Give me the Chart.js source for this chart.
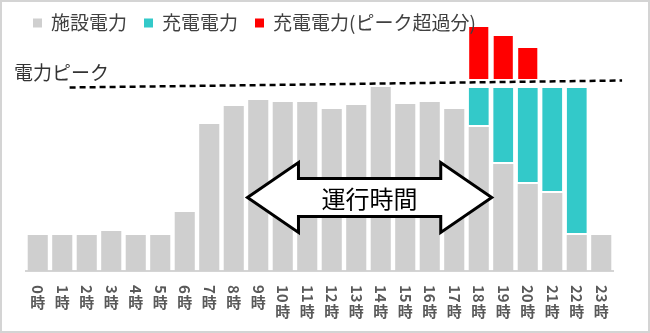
<!DOCTYPE html>
<html lang="ja">
<head>
<meta charset="utf-8">
<script src="https://cdn.jsdelivr.net/npm/chart.js@4.4.1/dist/chart.umd.min.js"></script>
<style>
  html, body { margin: 0; padding: 0; background: #fff; }
  #wrap { position: relative; width: 650px; height: 333px; }
  #wrap canvas { position: absolute; left: 0; top: 0; }
  #frame { position: absolute; inset: 0; border: 2px solid #d4d4d4; pointer-events: none; }
</style>
</head>
<body>
<div id="wrap"><canvas id="powerChart" width="650" height="333"></canvas><div id="frame"></div></div>
<script>
// データ
const hours = ["0時", "1時", "2時", "3時", "4時", "5時", "6時", "7時", "8時", "9時", "10時", "11時",
  "12時", "13時", "14時", "15時", "16時", "17時", "18時", "19時", "20時", "21時", "22時", "23時"];

const facilityPower = [36, 36, 36, 40, 36, 36, 59, 147, 165, 171, 169, 169,
  162, 166, 184, 167, 169, 162, 144, 107, 87, 78, 36, 36];

const chargePower = [null, null, null, null, null, null, null, null, null, null, null, null,
  null, null, null, null, null, null, 39, 76, 96, 105, 147, null];

// ピーク超過分（下端・上端）
const overPeakCharge = [null, null, null, null, null, null, null, null, null, null, null, null,
  null, null, null, null, null, null, [192, 244], [192, 235], [192, 223], null, null, null];

// 電力ピークの破線（時間軸上の位置と値）
const peakLineX = [1.3, 23.85];
const peakLineY = [183.5, 190.5];

const legendNames = ["施設電力", "充電電力", "充電電力(ピーク超過分)"];
const peakLabel = "電力ピーク";
const arrowLabel = "運行時間";

const COLORS = { facility: "#cfcfcf", charge: "#33c9c9", over: "#ff0000" };
const JP_FONT = "'Noto Sans CJK JP', 'Noto Sans', sans-serif";

// 運行時間の矢印（時間軸・値軸上の位置）
const arrowSpan = [8.56, 18.53];
const arrowLevel = 73.5;

const overlayPlugin = {
  id: "overlay",
  afterDatasetsDraw(chart) {
    const ctx = chart.ctx;
    const xl = chart.scales.xl;
    const y = chart.scales.y;
    const L = xl.getPixelForValue(arrowSpan[0]);
    const R = xl.getPixelForValue(arrowSpan[1]);
    const cy = y.getPixelForValue(arrowLevel);
    const hl = 51, hh = 35, sh = 19;

    ctx.save();
    ctx.beginPath();
    ctx.moveTo(L, cy);
    ctx.lineTo(L + hl, cy - hh);
    ctx.lineTo(L + hl, cy - sh);
    ctx.lineTo(R - hl, cy - sh);
    ctx.lineTo(R - hl, cy - hh);
    ctx.lineTo(R, cy);
    ctx.lineTo(R - hl, cy + hh);
    ctx.lineTo(R - hl, cy + sh);
    ctx.lineTo(L + hl, cy + sh);
    ctx.lineTo(L + hl, cy + hh);
    ctx.closePath();
    ctx.fillStyle = "#fff";
    ctx.fill();
    ctx.lineWidth = 3;
    ctx.lineJoin = "miter";
    ctx.strokeStyle = "#000";
    ctx.stroke();

    ctx.fillStyle = "#000";
    ctx.font = "24px " + JP_FONT;
    ctx.textAlign = "center";
    ctx.textBaseline = "middle";
    ctx.fillText(arrowLabel, (L + R) / 2, cy + 1);
    ctx.restore();
  },
  afterDraw(chart) {
    const ctx = chart.ctx;
    const xs = chart.scales.x;
    ctx.save();

    // 凡例
    ctx.font = "19px " + JP_FONT;
    ctx.textBaseline = "middle";
    ctx.textAlign = "left";
    let lx = 33;
    chart.data.datasets.slice(0, 3).forEach((ds, i) => {
      ctx.fillStyle = ds.backgroundColor;
      ctx.fillRect(lx, 18.5, 9, 9);
      ctx.fillStyle = "#404040";
      ctx.fillText(legendNames[i], lx + 18, 22.5);
      lx += 18 + ctx.measureText(legendNames[i]).width + 17;
    });

    // 電力ピーク
    ctx.fillStyle = "#333";
    ctx.fillText(peakLabel, 14, 72.5);

    // 時刻ラベル（縦書き）
    ctx.fillStyle = "#595959";
    ctx.font = "bold 15px " + JP_FONT;
    hours.forEach((label, i) => {
      const x = xs.getPixelForTick(i);
      const num = label.replace("時", "");
      const top = 285;
      ctx.save();
      ctx.translate(x, top);
      ctx.rotate(Math.PI / 2);
      ctx.textAlign = "left";
      ctx.textBaseline = "middle";
      ctx.fillText(num, 0, 0);
      ctx.restore();
      const w = ctx.measureText(num).width;
      ctx.textAlign = "center";
      ctx.textBaseline = "top";
      ctx.fillText("時", x, top + w + 1);
    });
    ctx.restore();
  }
};

new Chart(document.getElementById("powerChart"), {
  type: "bar",
  data: {
    labels: hours,
    datasets: [
      {
        label: legendNames[0],
        data: facilityPower,
        backgroundColor: COLORS.facility,
        stack: "power",
        grouped: false,
        barPercentage: 0.82,
        categoryPercentage: 1
      },
      {
        label: legendNames[1],
        data: chargePower,
        backgroundColor: COLORS.charge,
        borderColor: "#fff",
        borderWidth: { top: 0, left: 0, right: 0, bottom: 2 },
        borderSkipped: false,
        stack: "power",
        grouped: false,
        barPercentage: 0.82,
        categoryPercentage: 1
      },
      {
        label: legendNames[2],
        data: overPeakCharge,
        backgroundColor: COLORS.over,
        stack: "over",
        grouped: false,
        barPercentage: 0.78,
        categoryPercentage: 1
      },
      {
        type: "line",
        label: peakLabel,
        data: peakLineX.map((x, i) => ({ x: x, y: peakLineY[i] })),
        xAxisID: "xl",
        borderColor: "#000",
        borderWidth: 2.5,
        borderDash: [6, 4],
        pointRadius: 0,
        fill: false,
        clip: false
      }
    ]
  },
  options: {
    responsive: false,
    animation: false,
    layout: { padding: { left: 25.5, right: 36.5, top: 21, bottom: 62 } },
    plugins: { legend: { display: false }, tooltip: { enabled: false } },
    scales: {
      x: {
        type: "category",
        stacked: true,
        offset: true,
        ticks: { display: false },
        grid: { display: true, drawOnChartArea: false, drawTicks: false, offset: true },
        border: { display: true, color: "#d4d4d4", width: 2 }
      },
      xl: {
        type: "linear",
        display: false,
        offset: false,
        min: -0.5,
        max: 23.5
      },
      y: {
        display: false,
        stacked: true,
        min: 0,
        max: 250
      }
    }
  },
  plugins: [overlayPlugin]
});
</script>
</body>
</html>
